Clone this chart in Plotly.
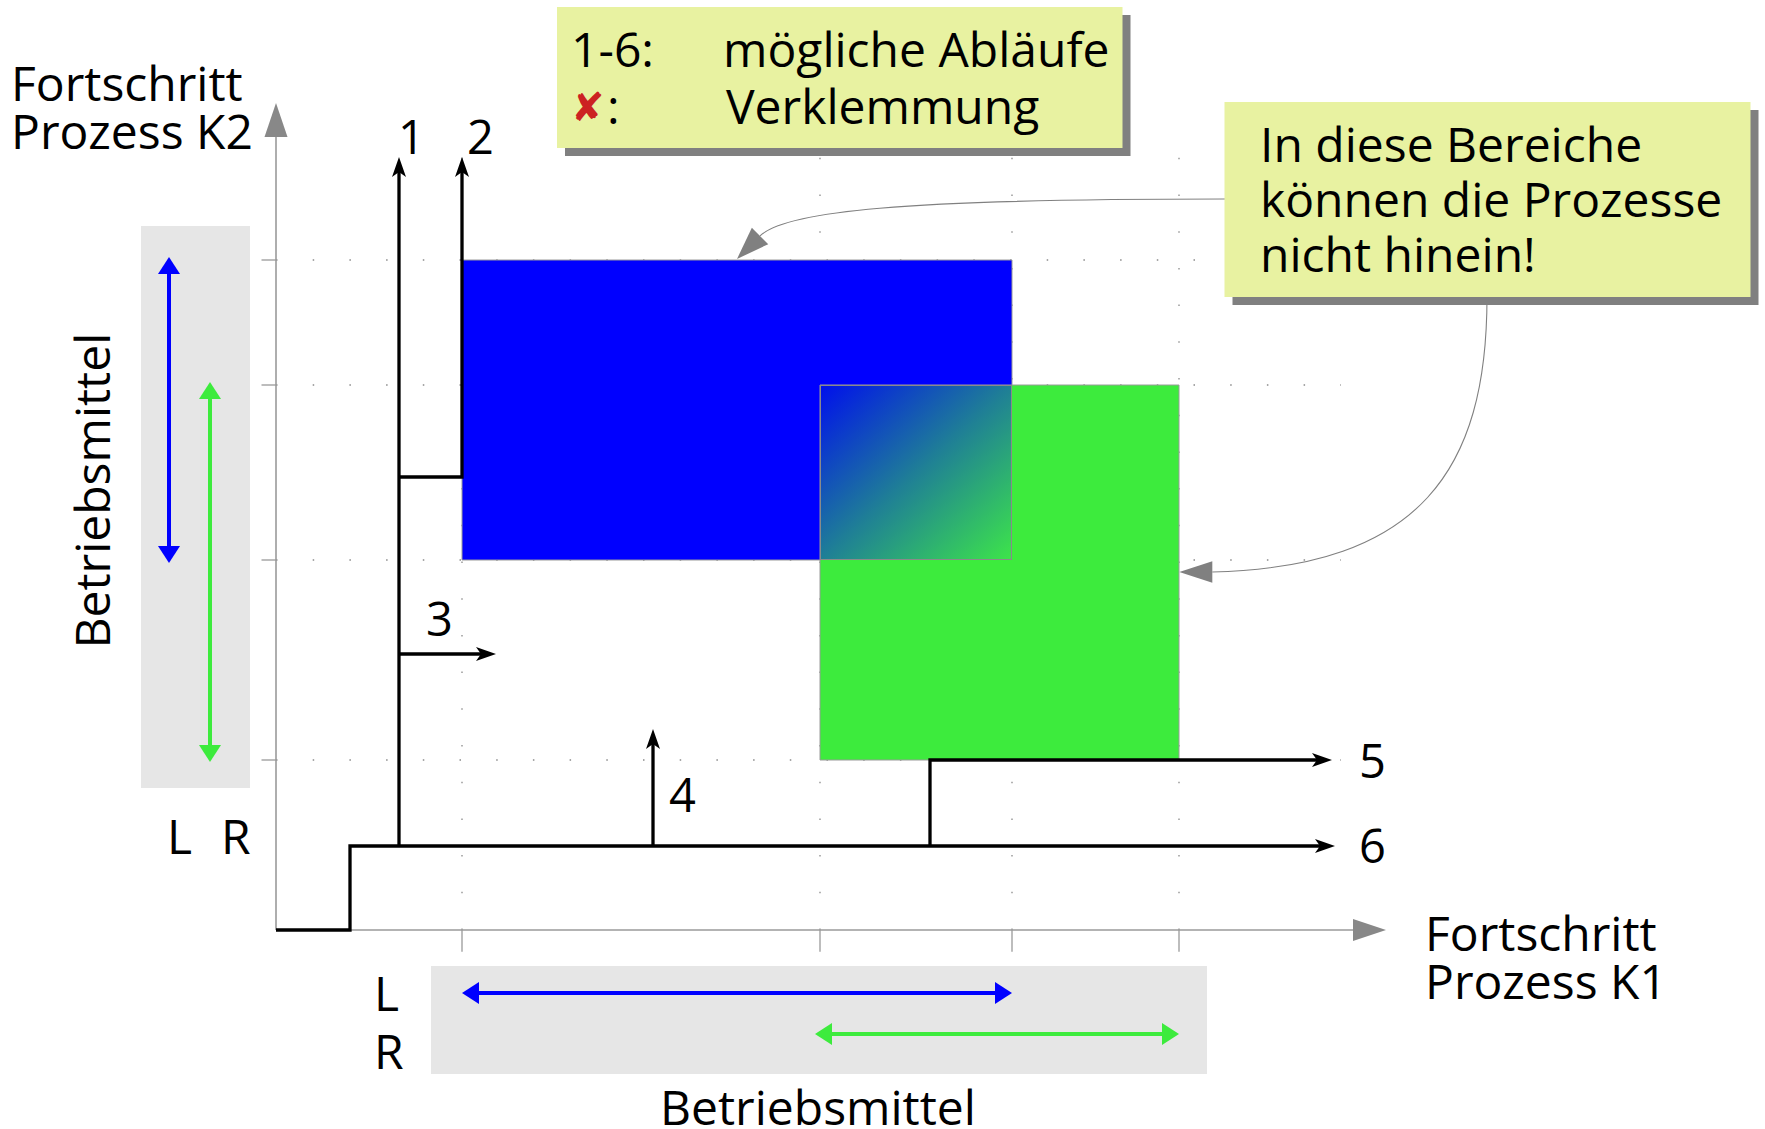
import base64
import math
import plotly.graph_objects as go

# ------------------------------------------------------------------
# Data: progress of the two processes (arbitrary progress units)
# ------------------------------------------------------------------
k1_ticks = [186, 544, 736, 903]   # K1: belegt L, belegt R, gibt L frei, gibt R frei
k2_ticks = [170, 370, 545, 670]   # K2: belegt R, belegt L, gibt R frei, gibt L frei

# forbidden regions (resource L = blue, resource R = green)
L_k1 = [k1_ticks[0], k1_ticks[2]]
L_k2 = [k2_ticks[1], k2_ticks[3]]
R_k1 = [k1_ticks[1], k1_ticks[3]]
R_k2 = [k2_ticks[0], k2_ticks[2]]

# possible runs through the progress space
start_x = [0, 74, 74]
start_y = [0, 0, 84]
run_labels = ["1", "2", "3", "4", "5", "6"]
run1_x = [123, 123]
run1_y = [84, 773]
run2_x = [123, 186, 186]
run2_y = [453, 453, 773]
run3_x = [123, 220]
run3_y = [276, 276]
run4_x = [377, 377]
run4_y = [84, 201]
run5_x = [654, 654, 1056]
run5_y = [84, 170, 170]
run6_x = [74, 1059]
run6_y = [84, 84]

# ------------------------------------------------------------------
# Layout helpers (page pixels -> axis units)
# ------------------------------------------------------------------
W, H = 1765, 1129
OX, OY = 276, 930
FONT = "Open Sans"
FS = 48
TY = -1.45   # text box centre vs. cap centre


def X(px):
    return px - OX


def Y(py):
    return OY - py


shapes = []
annotations = []


def rect(x0, y0, x1, y1, fill, line_color=None, lw=0, layer="below"):
    shapes.append(dict(type="rect", xref="x", yref="y", x0=x0, y0=y0, x1=x1, y1=y1,
                       fillcolor=fill, layer=layer,
                       line=dict(color=line_color or fill, width=lw)))


def seg(x0, y0, x1, y1, color, width, dash="solid", layer="below"):
    shapes.append(dict(type="line", xref="x", yref="y", x0=x0, y0=y0, x1=x1, y1=y1,
                       layer=layer, line=dict(color=color, width=width, dash=dash)))


def poly(pts, fill, layer="below"):
    path = "M " + " L ".join(f"{a:.2f},{b:.2f}" for a, b in pts) + " Z"
    shapes.append(dict(type="path", xref="x", yref="y", path=path, fillcolor=fill,
                       layer=layer, line=dict(width=0)))


def curve(path, color, width):
    shapes.append(dict(type="path", xref="x", yref="y", path=path,
                       fillcolor="rgba(0,0,0,0)", layer="below",
                       line=dict(color=color, width=width)))


def tri_head(tip, d, length, half, fill, layer="below"):
    tx, ty = tip
    dx, dy = d
    px, py = -dy, dx
    bx, by = tx - dx * length, ty - dy * length
    poly([(tx, ty), (bx + px * half, by + py * half), (bx - px * half, by - py * half)],
         fill, layer)


def stealth_head(tip, d, fill="#000000"):
    tx, ty = tip
    dx, dy = d
    px, py = -dy, dx
    Lh, wh, nh = 20, 7, 15
    bx, by = tx - dx * Lh, ty - dy * Lh
    poly([(tx, ty), (bx + px * wh, by + py * wh), (tx - dx * nh, ty - dy * nh),
          (bx - px * wh, by - py * wh)], fill, layer="above")


def dbl_arrow(p0, p1, color, lw=4, length=17, half=11):
    dx, dy = p1[0] - p0[0], p1[1] - p0[1]
    n = math.hypot(dx, dy)
    ux, uy = dx / n, dy / n
    seg(p0[0] + ux * length, p0[1] + uy * length,
        p1[0] - ux * length, p1[1] - uy * length, color, lw)
    tri_head(p1, (ux, uy), length, half, color)
    tri_head(p0, (-ux, -uy), length, half, color)


def txt(px, py, s, xanchor="center", size=FS, color="#000000", family=FONT, angle=0,
        dy=TY):
    annotations.append(dict(x=X(px), y=Y(py + dy), xref="x", yref="y", text=s,
                            showarrow=False, xanchor=xanchor, yanchor="middle",
                            textangle=angle,
                            font=dict(family=family, size=size, color=color)))


# ------------------------------------------------------------------
# Background boxes for the resource bars
# ------------------------------------------------------------------
rect(X(141), Y(788), X(250), Y(226), "#E6E6E6")
rect(X(431), Y(1074), X(1207), Y(966), "#E6E6E6")

# dotted grid
grid_top, grid_right = 780, 1065
for xv in k1_ticks:
    seg(xv, 0, xv, grid_top, "#8a8a8a", 1.3, dash="1.5px,35.2px")
for yv in k2_ticks:
    seg(0, yv, grid_right, yv, "#8a8a8a", 1.3, dash="1.5px,35.2px")

# forbidden regions
rect(L_k1[0], L_k2[0], L_k1[1], L_k2[1], "#0000FF", "#9a9a9a", 1)
rect(R_k1[0], R_k2[0], R_k1[1], R_k2[1], "#3DEB3D", "#9a9a9a", 1)

# axes
seg(0, 0, X(1353), 0, "#9a9a9a", 1.6)
seg(0, 0, 0, Y(137), "#9a9a9a", 1.6)
tri_head((X(1386), 0), (1, 0), 33, 11, "#888888")
tri_head((0, Y(103)), (0, 1), 34, 11.5, "#888888")
for xv in k1_ticks:
    seg(xv, 0, xv, -21.7, "#9a9a9a", 1.3)
for yv in k2_ticks:
    seg(-14.5, yv, 0, yv, "#9a9a9a", 1.3)

# resource usage arrows
dbl_arrow((X(169), L_k2[0] - 3), (X(169), L_k2[1] + 3), "#0000FF")
dbl_arrow((X(210), R_k2[0] - 2), (X(210), R_k2[1] + 3), "#3DEB3D")
dbl_arrow((L_k1[0], Y(993)), (L_k1[1], Y(993)), "#0000FF")
dbl_arrow((R_k1[0] - 5, Y(1034)), (R_k1[1], Y(1034)), "#3DEB3D")

# connectors from the callout box
c_up_tip = (X(737), Y(259))
s2 = 1 / math.sqrt(2)
d_up = (-s2, -s2)
p3 = (c_up_tip[0] - d_up[0] * 32.6, c_up_tip[1] - d_up[1] * 32.6)
curve(f"M {X(1300)},{Y(199)} L {X(1224)},{Y(199)} C {X(900)},{Y(199)} "
      f"{p3[0] + 35 * s2},{p3[1] + 35 * s2} {p3[0]},{p3[1]}", "#808080", 1.1)
tri_head(c_up_tip, d_up, 32.6, 11.6, "#808080")

c_lo_tip = (X(1179.3), Y(572))
p3b = (c_lo_tip[0] + 33, c_lo_tip[1])
curve(f"M {X(1487)},{Y(250)} L {X(1487)},{Y(297)} C {X(1487)},{Y(470)} "
      f"{X(1420)},{Y(567)} {p3b[0]},{p3b[1]}", "#808080", 1.1)
tri_head(c_lo_tip, (-1, 0), 33, 10.7, "#808080")

# legend box and callout box (with drop shadows)
rect(X(565), Y(156), X(1130.5), Y(15), "#808080")
rect(X(557), Y(148), X(1122.5), Y(7), "#E8F2A1")
rect(X(1232.5), Y(305), X(1758.5), Y(110), "#808080")
rect(X(1224.5), Y(297), X(1750.5), Y(102), "#E8F2A1")

# ------------------------------------------------------------------
# Runs (black lines with stealth arrowheads)
# ------------------------------------------------------------------
runs = [
    (start_x + run6_x[1:], start_y + run6_y[1:]),
    (run1_x, run1_y),
    (run2_x, run2_y),
    (run3_x, run3_y),
    (run4_x, run4_y),
    (run5_x, run5_y),
]

traces = []
for xs, ys in runs:
    dx, dy = xs[-1] - xs[-2], ys[-1] - ys[-2]
    n = math.hypot(dx, dy)
    ux, uy = dx / n, dy / n
    xs2 = list(xs[:-1]) + [xs[-1] - ux * 14]
    ys2 = list(ys[:-1]) + [ys[-1] - uy * 14]
    traces.append(go.Scatter(x=xs2, y=ys2, mode="lines",
                             line=dict(color="#000000", width=3.3),
                             hoverinfo="skip", showlegend=False))
    stealth_head((xs[-1], ys[-1]), (ux, uy))

fig = go.Figure(traces)

# overlap of both regions: diagonal gradient
ov_x0, ov_x1 = R_k1[0], L_k1[1]
ov_y0, ov_y1 = L_k2[0], R_k2[1]
ow, oh = ov_x1 - ov_x0, ov_y1 - ov_y0
svg = (f'<svg xmlns="http://www.w3.org/2000/svg" width="{ow}" height="{oh}" '
       f'viewBox="0 0 {ow} {oh}" preserveAspectRatio="none">'
       '<defs><linearGradient id="g" x1="0" y1="0" x2="1" y2="1">'
       '<stop offset="0" stop-color="#0010EC"/>'
       '<stop offset="0.5" stop-color="#1F7F96"/>'
       '<stop offset="1" stop-color="#3DE44A"/>'
       '</linearGradient></defs>'
       f'<rect x="0.5" y="0.5" width="{ow - 1}" height="{oh - 1}" fill="url(#g)" '
       'stroke="#8a8a8a" stroke-width="1"/></svg>')
src = "data:image/svg+xml;base64," + base64.b64encode(svg.encode()).decode()
images = [dict(source=src, xref="x", yref="y", x=ov_x0, y=ov_y1, sizex=ow, sizey=oh,
               xanchor="left", yanchor="top", sizing="stretch", layer="above")]

# ------------------------------------------------------------------
# Texts
# ------------------------------------------------------------------
txt(9, 84, "Fortschritt", "left")
txt(9, 131.5, "Prozess K2", "left")
txt(1423, 934, "Fortschritt", "left")
txt(1423, 982, "Prozess K1", "left")
txt(818, 1107.5, "Betriebsmittel")
txt(92.5 - 1.45, 490.5, "Betriebsmittel", angle=-90, dy=0)
txt(179.7, 837, "L")
txt(235.7, 837, "R")
txt(386.5, 993.5, "L")
txt(389, 1051.5, "R")

label_pos = [(411.5, 137.5), (480, 137.5), (439, 619.6), (682.5, 795.8),
             (1372, 761.5), (1372, 846.7)]
for lab, (lx, ly) in zip(run_labels, label_pos):
    txt(lx, ly, lab, size=47)

txt(569, 50, "1-6:", "left")
txt(721, 50, "mögliche Abläufe", "left")
txt(587.6, 106.7, "✘", size=40, color="#CC2222", family="DejaVu Sans", dy=0)
txt(605, 106.7, ":", "left")
txt(724, 106.7, "Verklemmung", "left")

txt(1258, 145.3, "In diese Bereiche", "left")
txt(1258, 200.3, "können die Prozesse", "left")
txt(1258, 255.3, "nicht hinein!", "left")

fig.update_layout(
    width=W, height=H,
    margin=dict(l=0, r=0, t=0, b=0),
    paper_bgcolor="white", plot_bgcolor="white",
    xaxis=dict(range=[X(0), X(W)], visible=False, fixedrange=True),
    yaxis=dict(range=[Y(H), Y(0)], visible=False, fixedrange=True),
    shapes=shapes, annotations=annotations, images=images,
    showlegend=False, hovermode=False,
)

fig.write_html("out.html", config={"displayModeBar": False, "staticPlot": True},
               post_script="document.body.style.margin='0';document.body.style.overflow='hidden';")
